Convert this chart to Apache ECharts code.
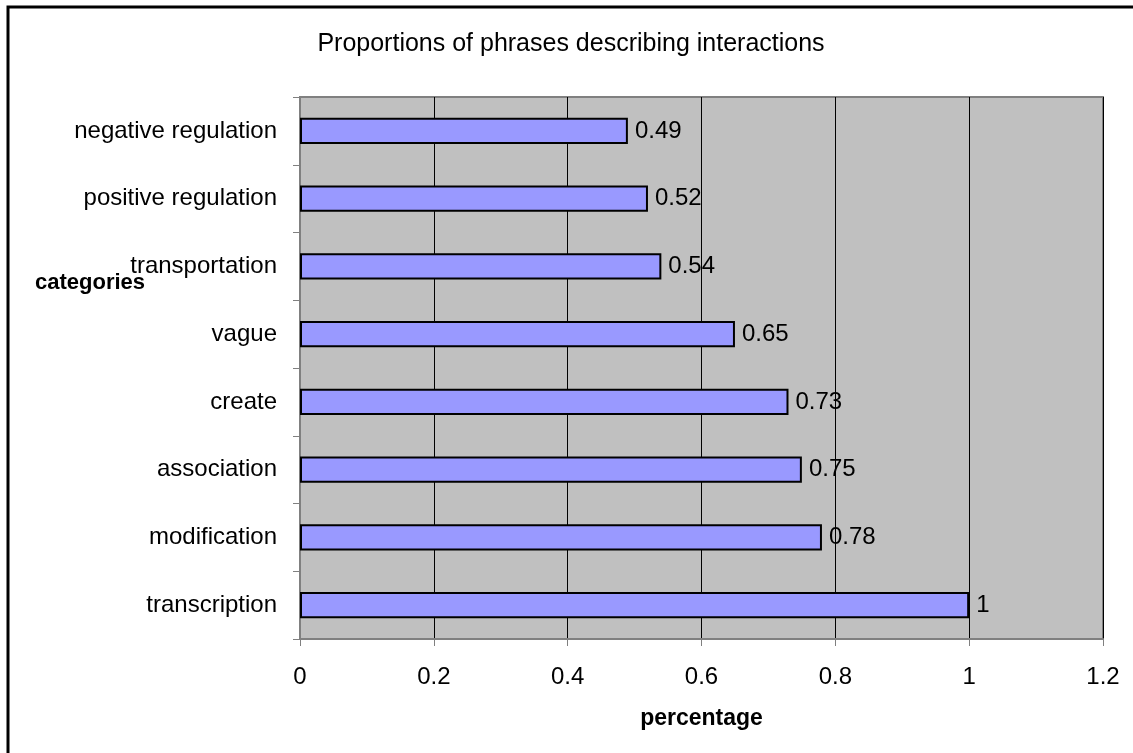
<!DOCTYPE html>
<html>
<head>
<meta charset="utf-8">
<script src="https://cdn.jsdelivr.net/npm/echarts@6/dist/echarts.min.js"></script>
<style>
  html, body { margin: 0; padding: 0; background: #fff; }
  #chart { width: 1133px; height: 753px; }
</style>
</head>
<body>
<div id="chart"></div>
<script>
// Interaction phrase categories, listed bottom to top
const categories = ['transcription', 'modification', 'association', 'create',
  'vague', 'transportation', 'positive regulation', 'negative regulation'];
const proportions = [1, 0.78, 0.75, 0.73, 0.65, 0.54, 0.52, 0.49];
const xTicks = [0, 0.2, 0.4, 0.6, 0.8, 1, 1.2];

const FONT = 'Liberation Sans, Arial, sans-serif';
const chart = echarts.init(document.getElementById('chart'));

chart.setOption({
  animation: false,
  backgroundColor: '#fff',
  title: {
    text: 'Proportions of phrases describing interactions',
    left: 566, top: 27, textAlign: 'center',
    textStyle: { fontFamily: FONT, fontSize: 25, fontWeight: 'normal', color: '#000' }
  },
  graphic: [
    { type: 'polyline', shape: { points: [[8, 753], [8, 7], [1133, 7]] },
      style: { stroke: '#000', lineWidth: 3, fill: null } },
    { type: 'text', left: 35, top: 272,
      style: { text: 'categories', font: 'bold 22px ' + FONT, fill: '#000' } }
  ],
  grid: {
    left: 300, right: 30, top: 97, bottom: 114,
    show: true, backgroundColor: '#C0C0C0', borderColor: '#808080', borderWidth: 2
  },
  xAxis: {
    type: 'value', min: xTicks[0], max: xTicks[xTicks.length - 1], interval: 0.2,
    name: 'percentage', nameLocation: 'middle', nameGap: 68,
    nameTextStyle: { fontFamily: FONT, fontSize: 23, fontWeight: 'bold', color: '#000' },
    axisLine: { show: true, lineStyle: { color: '#808080', width: 2 } },
    axisTick: { show: true, length: 7, lineStyle: { color: '#808080', width: 1 } },
    axisLabel: { fontFamily: FONT, fontSize: 24, color: '#000', margin: 26,
      formatter: v => String(+v.toFixed(1)) },
    splitLine: { show: true, lineStyle: { color: '#000', width: 1 } }
  },
  yAxis: {
    type: 'category', data: categories, boundaryGap: true,
    axisLine: { show: true, lineStyle: { color: '#808080', width: 2 } },
    axisTick: { show: true, length: 7, lineStyle: { color: '#808080', width: 1 } },
    axisLabel: { fontFamily: FONT, fontSize: 24, color: '#000', margin: 23 },
    splitLine: { show: false }
  },
  series: [{
    type: 'bar',
    data: proportions,
    barWidth: '39%',
    itemStyle: { color: '#9999FF', borderColor: '#000', borderWidth: 2 },
    label: { show: true, position: 'right', distance: 7,
      fontFamily: FONT, fontSize: 24, color: '#000' }
  }]
});
</script>
</body>
</html>
